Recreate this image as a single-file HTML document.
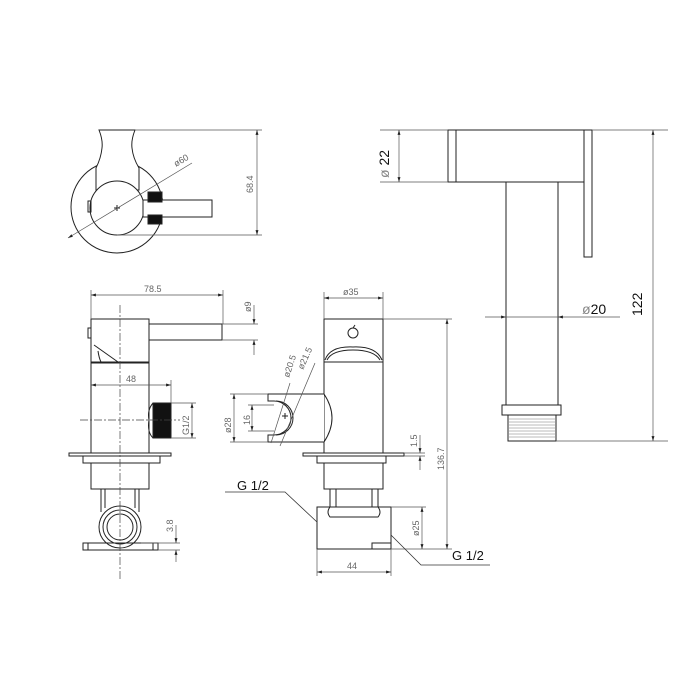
<!DOCTYPE html>
<html><head><style>html,body{margin:0;padding:0;background:#fff}svg{display:block}</style></head>
<body>
<svg width="700" height="700" viewBox="0 0 700 700" xmlns="http://www.w3.org/2000/svg" font-family="Liberation Sans, sans-serif">
<defs>
<marker id="a" viewBox="0 0 10 10" refX="10" refY="5" markerWidth="7" markerHeight="7" orient="auto-start-reverse"><path d="M0,2 L10,5 L0,8z" fill="#222"/></marker>
</defs>
<g fill="none" stroke="#222" stroke-width="1">
<!-- TOP VIEW -->
<circle cx="117" cy="207" r="46" fill="#fff"/>
<path d="M99,130 L135,130 Q131,140 132,148 Q133,158 139,168 L139,190 L96,190 L96,168 Q101,158 102,148 Q103,140 99,130 Z" fill="#fff"/>
<circle cx="117" cy="208" r="27" fill="#fff"/>
<rect x="88" y="201" width="3" height="11"/>
<rect x="143" y="200" width="69" height="17" fill="#fff"/>
<rect x="148" y="192" width="14" height="10" fill="#111"/>
<rect x="148" y="215" width="14" height="9" fill="#111"/>
<path d="M114,208 h6 M117,205 v6"/>
</g>
<g stroke="#555" stroke-width="0.7" fill="none">
<line x1="68" y1="238" x2="192" y2="163" marker-start="url(#a)"/>
<line x1="135" y1="130" x2="262" y2="130"/><line x1="117" y1="235" x2="262" y2="235"/>
<line x1="257" y1="130" x2="257" y2="235" marker-start="url(#a)" marker-end="url(#a)"/>
</g>
<g fill="#666" font-size="9">
<text transform="translate(176,167) rotate(-31)">ø60</text>
<text transform="translate(253,193) rotate(-90)">68.4</text>
</g>

<!-- FRONT VIEW -->
<g fill="none" stroke="#222" stroke-width="1">
<rect x="91" y="319" width="58" height="43"/>
<rect x="88" y="328" width="3" height="10"/>
<rect x="149" y="324" width="73" height="16"/>
<path d="M94,345 L118,362 M98,351 Q99,358 101,362"/>
<rect x="91" y="363" width="58" height="90"/>
<rect x="153" y="403" width="18" height="35" fill="#111"/>
<path d="M153,403 Q147,410 149,420 Q147,432 153,438"/>
<rect x="69" y="453" width="102" height="3"/>
<rect x="83" y="456" width="77" height="7"/>
<rect x="91" y="463" width="58" height="26"/>
<path d="M101,489 V512 M105,489 V508 M135,489 V508 M139,489 V512"/>
<circle cx="120" cy="527" r="21" fill="#fff"/>
<circle cx="120" cy="527" r="17"/>
<circle cx="120" cy="527" r="13"/>
<path d="M83,543 H158 V550 H83 Z M88,543 V550 M153,543 V550"/>
</g>
<g stroke="#444" stroke-width="0.7" fill="none" stroke-dasharray="8,2,2,2">
<line x1="120" y1="305" x2="120" y2="580"/><line x1="80" y1="420" x2="180" y2="420"/>
</g>
<g stroke="#555" stroke-width="0.7" fill="none">
<line x1="91" y1="290" x2="91" y2="319"/><line x1="223" y1="290" x2="223" y2="324"/>
<line x1="91" y1="295" x2="223" y2="295" marker-start="url(#a)" marker-end="url(#a)"/>
<line x1="222" y1="324" x2="258" y2="324"/><line x1="222" y1="340" x2="258" y2="340"/>
<line x1="254" y1="305" x2="254" y2="324" marker-end="url(#a)"/><line x1="254" y1="355" x2="254" y2="340" marker-end="url(#a)"/>
<line x1="171" y1="380" x2="171" y2="403"/>
<line x1="91" y1="385" x2="171" y2="385" marker-start="url(#a)" marker-end="url(#a)"/>
<line x1="171" y1="403" x2="196" y2="403"/><line x1="171" y1="438" x2="196" y2="438"/>
<line x1="192" y1="403" x2="192" y2="438" marker-start="url(#a)" marker-end="url(#a)"/>
<line x1="141" y1="543" x2="180" y2="543"/><line x1="158" y1="550" x2="180" y2="550"/>
<line x1="176" y1="525" x2="176" y2="543" marker-end="url(#a)"/><line x1="176" y1="562" x2="176" y2="550" marker-end="url(#a)"/>
</g>
<g fill="#666" font-size="9">
<text x="144" y="292">78.5</text>
<text transform="translate(251,312) rotate(-90)">ø9</text>
<text x="126" y="382">48</text>
<text transform="translate(189,435) rotate(-90)">G1/2</text>
<text transform="translate(173,532) rotate(-90)">3.8</text>
</g>

<!-- SIDE VIEW -->
<g fill="none" stroke="#222" stroke-width="1">
<rect x="324" y="319" width="59" height="43"/>
<circle cx="353" cy="333" r="5"/><path d="M353,328 l2,-3"/>
<path d="M325,360 Q330,346 353,347 Q376,346 382,360" />
<path d="M327,360 Q332,350 353,350 Q374,350 380,360" />
<rect x="324" y="362" width="59" height="91"/>
<path d="M324,394 H268 V401 H274 A17,17 0 1 1 274,435 H268 V442 H324" fill="#fff"/>
<path d="M324,394 Q340,418 324,442"/>
<path d="M276,401 A15,15 0 1 1 276,435"/>
<rect x="303" y="453" width="101" height="3"/>
<rect x="317" y="456" width="69" height="7"/>
<rect x="324" y="463" width="59" height="26"/>
<path d="M330,489 V517 M336,489 V512 M372,489 V512 M378,489 V517"/>
<rect x="317" y="507" width="74" height="42" fill="#fff"/>
<path d="M330,507 Q326,512 330,517 H378 Q382,512 378,507"/>
<rect x="372" y="543" width="19" height="6"/>
<path d="M282,416 h6 M285,413 v6"/>
</g>
<g stroke="#555" stroke-width="0.7" fill="none">
<line x1="324" y1="292" x2="324" y2="319"/><line x1="383" y1="292" x2="383" y2="319"/>
<line x1="324" y1="298" x2="383" y2="298" marker-start="url(#a)" marker-end="url(#a)"/>
<line x1="383" y1="319" x2="452" y2="319"/><line x1="391" y1="549" x2="452" y2="549"/>
<line x1="447" y1="319" x2="447" y2="549" marker-start="url(#a)" marker-end="url(#a)"/>
<line x1="404" y1="453" x2="425" y2="453"/><line x1="404" y1="456" x2="425" y2="456"/>
<line x1="420" y1="435" x2="420" y2="453" marker-end="url(#a)"/><line x1="420" y1="470" x2="420" y2="456" marker-end="url(#a)"/>
<line x1="391" y1="507" x2="426" y2="507"/>
<line x1="422" y1="507" x2="422" y2="549" marker-start="url(#a)" marker-end="url(#a)"/>
<line x1="317" y1="549" x2="317" y2="576"/><line x1="391" y1="549" x2="391" y2="576"/>
<line x1="317" y1="572" x2="391" y2="572" marker-start="url(#a)" marker-end="url(#a)"/>
<line x1="268" y1="394" x2="230" y2="394"/><line x1="268" y1="442" x2="230" y2="442"/>
<line x1="234" y1="394" x2="234" y2="442" marker-start="url(#a)" marker-end="url(#a)"/>
<line x1="274" y1="405" x2="248" y2="405"/><line x1="274" y1="431" x2="248" y2="431"/>
<line x1="252" y1="405" x2="252" y2="431" marker-start="url(#a)" marker-end="url(#a)"/>
<line x1="271" y1="443" x2="290" y2="383"/><line x1="280" y1="446" x2="315" y2="363"/>
</g>
<g stroke="#333" stroke-width="0.8" fill="none">
<polyline points="225,492 285,492 317,522"/>
<polyline points="391,535 421,565 490,565"/>
</g>
<g fill="#666" font-size="9">
<text x="343" y="295">ø35</text>
<text transform="translate(444,470) rotate(-90)">136.7</text>
<text transform="translate(417,447) rotate(-90)">1.5</text>
<text transform="translate(419,536) rotate(-90)">ø25</text>
<text x="347" y="569">44</text>
<text transform="translate(231,433) rotate(-90)">ø28</text>
<text transform="translate(250,425) rotate(-90)">16</text>
<text transform="translate(289,378) rotate(-72)">ø20.5</text>
<text transform="translate(303,370) rotate(-66)">ø21.5</text>
</g>
<g fill="#111" font-size="13">
<text x="237" y="490">G 1/2</text>
<text x="452" y="560">G 1/2</text>
</g>

<!-- HAND SHOWER -->
<g fill="none" stroke="#222" stroke-width="1">
<rect x="448" y="130" width="144" height="52" fill="#fff"/>
<rect x="448" y="130" width="8" height="52"/>
<rect x="584" y="130" width="8" height="127" fill="#fff"/>
<rect x="506" y="182" width="52" height="223"/>
<rect x="502" y="405" width="59" height="10"/>
<rect x="508" y="415" width="48" height="26"/>
<path d="M509,419h46M509,422h46M509,425h46M509,428h46M509,431h46M509,434h46M509,437h46" stroke="#777" stroke-width="0.5"/>
</g>
<g stroke="#555" stroke-width="0.7" fill="none">
<line x1="380" y1="130" x2="448" y2="130"/><line x1="380" y1="182" x2="448" y2="182"/>
<line x1="399" y1="130" x2="399" y2="182" marker-start="url(#a)" marker-end="url(#a)"/>
<line x1="485" y1="317" x2="506" y2="317" marker-end="url(#a)"/>
<line x1="506" y1="317" x2="558" y2="317"/>
<line x1="620" y1="317" x2="558" y2="317" marker-end="url(#a)"/>
<line x1="592" y1="130" x2="668" y2="130"/><line x1="556" y1="441" x2="668" y2="441"/>
<line x1="653" y1="130" x2="653" y2="441" marker-start="url(#a)" marker-end="url(#a)"/>
</g>
<g fill="#111" font-size="14">
<text transform="translate(389,178) rotate(-90)"><tspan fill="#888">ø</tspan> 22</text>
<text x="582" y="314"><tspan fill="#888">ø</tspan>20</text>
<text transform="translate(642,316) rotate(-90)">122</text>
</g>
</svg>
</body></html>
